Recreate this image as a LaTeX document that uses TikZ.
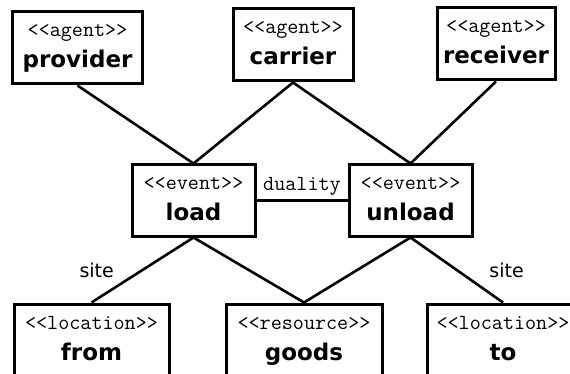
\documentclass[tikz,border=0pt]{standalone}
\usepackage{fontspec}
\setsansfont{DejaVu Sans}
\usepackage{tikz}

\newcommand{\stereo}[2]{\rule{0pt}{20pt}{\ttfamily <{}<#1>{}>}\\{\sffamily\bfseries\fontsize{23}{31}\selectfont #2}\rule[-12pt]{0pt}{12pt}}

\begin{document}
\begin{tikzpicture}[x=1pt,y=-1pt,line width=2.6pt]
\tikzstyle{every node}=[font=\fontsize{21.5}{31}\selectfont]
  	\tikzstyle{box}=[draw,line width=3pt,align=center,inner sep=0pt,minimum height=72pt]
  	\tikzstyle{lbl}=[font=\sffamily\fontsize{19}{19}\selectfont]
\useasboundingbox (0,0) rectangle (570,374);
\node [box,minimum width=130pt] (0) at (77.5,48) {\stereo{agent}{provider}};
\node [box,minimum width=120pt] (1) at (293,45) {\stereo{agent}{carrier}};
\node [box,minimum width=118pt] (2) at (496,44) {\stereo{agent}{receiver}};
\node [box,minimum width=123pt,minimum height=71pt] (3) at (193.5,200.5) {\stereo{event}{load}};
\node [box,minimum width=123pt,minimum height=71pt] (4) at (410.5,200.5) {\stereo{event}{unload}};
\node [box,minimum width=155pt,minimum height=73pt] (5) at (91.5,340.5) {\stereo{location}{from}};
\node [box,minimum width=156pt,minimum height=73pt] (6) at (304,340.5) {\stereo{resource}{goods}};
\node [box,minimum width=152pt,minimum height=73pt] (7) at (503,340.5) {\stereo{location}{to}};

\path (0.south) edge (3.north)
      (1.south) edge (3.north)
      (1.south) edge (4.north)
      (2.south) edge (4.north);
\path (3.east) edge node[above,font=\ttfamily\fontsize{21.5}{21.5}\selectfont] {duality} (4.west);
\path (3.south) edge node[lbl,left=24pt] {site} (5.north)
      (3.south) edge (6.north)
      (4.south) edge (6.north)
      (4.south) edge node[lbl,right=28pt] {site} (7.north);

	\end{tikzpicture}
\end{document}
